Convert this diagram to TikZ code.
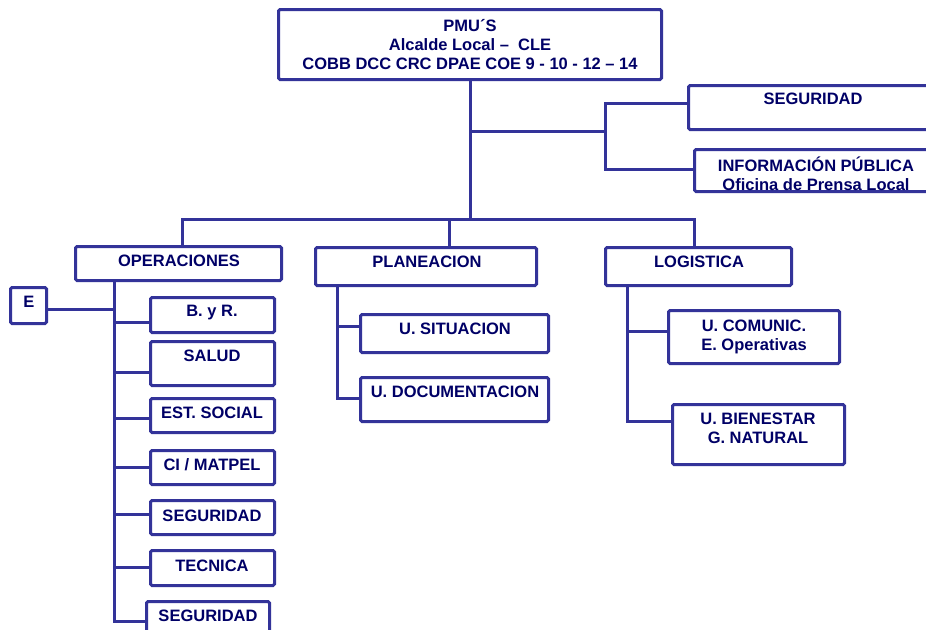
\documentclass[tikz,border=0pt]{standalone}
\usepackage{fontspec}
\setmainfont{Liberation Sans}
\usetikzlibrary{fit}
\definecolor{ln}{RGB}{51,51,153}
\definecolor{tx}{RGB}{0,0,102}
\begin{document}
\begin{tikzpicture}[x=1pt,y=-1pt,
 box/.style={draw=ln,line width=3pt,rounded corners=1.5pt,inner sep=0pt},
 lbl/.style={text=tx,font=\bfseries\fontsize{16.5}{19}\selectfont,align=center,inner sep=0pt},
 con/.style={draw=ln,line width=3pt}]
\useasboundingbox (0,0) rectangle (926,629);
\begin{scope}
\clip (0,0) rectangle (926,629);
% boxes
\node[box,fit={(278.5,9.5) (661.5,79.5)}] (top) {};
\node[box,fit={(688.5,85.5) (940,129.5)}] (seg1) {};
\node[box,fit={(694.5,149.5) (940,191.5)}] (info) {};
\node[box,fit={(75.5,246.5) (281.5,280.5)}] (ops) {};
\node[box,fit={(10.5,287.5) (46.5,323.5)}] (E) {};
\node[box,fit={(150.5,297.5) (274.5,332.5)}] (byr) {};
\node[box,fit={(150.5,341.5) (274.5,385.5)}] (salud) {};
\node[box,fit={(150.5,398.5) (274.5,432.5)}] (est) {};
\node[box,fit={(150.5,450.5) (274.5,484.5)}] (ci) {};
\node[box,fit={(150.5,500.5) (274.5,534.5)}] (seg2) {};
\node[box,fit={(150.5,550.5) (274.5,585.5)}] (tec) {};
\node[box,fit={(146.5,601.5) (269.5,645)}] (seg3) {};
\node[box,fit={(315.5,247.5) (536.5,285.5)}] (plan) {};
\node[box,fit={(360.5,314.5) (548.5,352.5)}] (sit) {};
\node[box,fit={(360.5,377.5) (548.5,421.5)}] (doc) {};
\node[box,fit={(605.5,247.5) (791.5,285.5)}] (log) {};
\node[box,fit={(668.5,310.5) (839.5,363.5)}] (com) {};
\node[box,fit={(672.5,404.5) (844.5,464.5)}] (bien) {};
% texts
\node[lbl] (topT) at (470,45) {PMU´S\\Alcalde Local –\ \ CLE\\COBB DCC CRC DPAE COE 9 - 10 - 12 – 14};
\node[lbl] (seg1T) at (813,99) {SEGURIDAD};
\node[lbl] (infoT) at (816,173.5) {INFORMACIÓN PÚBLICA\\Oficina de Prensa Local};
\node[lbl] (opsT) at (179,261) {OPERACIONES};
\node[lbl] (ET) at (29,302) {E};
\node[lbl] (byrT) at (212,313) {B. y R.};
\node[lbl] (saludT) at (212,356) {SALUD};
\node[lbl] (estT) at (212,413) {EST. SOCIAL};
\node[lbl] (ciT) at (212,465) {CI / MATPEL};
\node[lbl] (seg2T) at (212,516) {SEGURIDAD};
\node[lbl] (tecT) at (212,566) {TECNICA};
\node[lbl] (seg3T) at (208,616) {SEGURIDAD};
\node[lbl] (planT) at (427,262) {PLANEACION};
\node[lbl] (sitT) at (455,329) {U. SITUACION};
\node[lbl] (docT) at (455,392) {U. DOCUMENTACION};
\node[lbl] (logT) at (699,262) {LOGISTICA};
\node[lbl] (comT) at (754,336.5) {U. COMUNIC.\\E. Operativas};
\node[lbl] (bienT) at (758,428.5) {U. BIENESTAR\\G. NATURAL};
% connectors
\coordinate (bus) at (470,219);
\coordinate (bl) at (182,219);
\coordinate (bp) at (449,219);
\coordinate (br) at (694,219);
\draw[con] (top.south) -- (bus);
\draw[con] (bl |- ops.north) -- (bl) -- (br) -- (br |- log.north);
\draw[con] (bp) -- (bp |- plan.north);
\coordinate (rb) at (605,131);
\coordinate (s1) at (605,103);
\coordinate (s2) at (605,169);
\draw[con] (top.south |- rb) -- (rb);
\draw[con] (s1 -| seg1.west) -- (s1) -- (s2) -- (s2 -| info.west);
% operaciones
\coordinate (ov) at (114,621);
\draw[con] (ov |- ops.south) -- (ov) -- (ov -| seg3.west);
\draw[con] (E.east |- 0,309) -- (ov |- 0,309);
\draw[con] (ov |- 0,322) -- (byr.west |- 0,322);
\draw[con] (ov |- 0,372) -- (salud.west |- 0,372);
\draw[con] (ov |- 0,418) -- (est.west |- 0,418);
\draw[con] (ov |- 0,467) -- (ci.west |- 0,467);
\draw[con] (ov |- 0,514) -- (seg2.west |- 0,514);
\draw[con] (ov |- 0,567) -- (tec.west |- 0,567);
% planeacion
\coordinate (pv) at (337,398);
\draw[con] (pv |- plan.south) -- (pv) -- (pv -| doc.west);
\draw[con] (pv |- 0,326) -- (sit.west |- 0,326);
% logistica
\coordinate (lv) at (627,421);
\draw[con] (lv |- log.south) -- (lv) -- (lv -| bien.west);
\draw[con] (lv |- 0,331) -- (com.west |- 0,331);
\end{scope}
\end{tikzpicture}
\end{document}
